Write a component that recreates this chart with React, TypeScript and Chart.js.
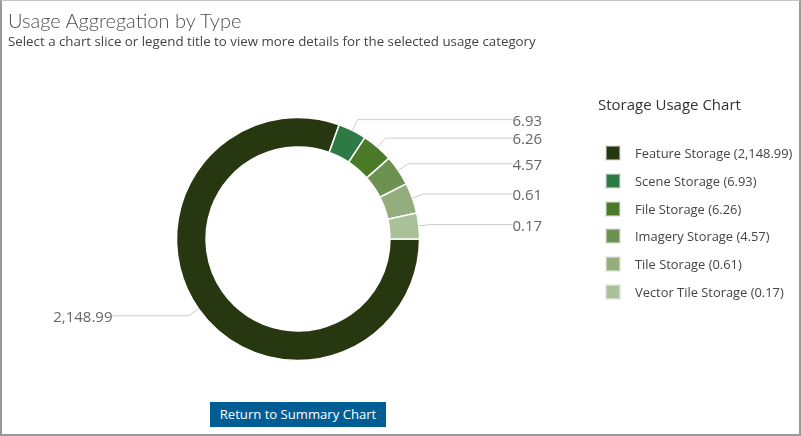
import React, { useEffect, useRef } from "react";
import { Chart, registerables } from "chart.js";

Chart.register(...registerables);

const chartTitle = "Usage Aggregation by Type";
const chartSubtitle =
  "Select a chart slice or legend title to view more details for the selected usage category";
const legendTitle = "Storage Usage Chart";
const buttonText = "Return to Summary Chart";

const categories = [
  "Feature Storage",
  "Scene Storage",
  "File Storage",
  "Imagery Storage",
  "Tile Storage",
  "Vector Tile Storage",
];
const usageValues = [2148.99, 6.93, 6.26, 4.57, 0.61, 0.17];
// Angular size (degrees) of each slice as it is drawn in the reference
// (the small categories are shown with a minimum visible slice size).
const sliceDegrees = [289.8, 13.6, 15.0, 14.6, 14.6, 12.4];
const sliceColors = ["#27370f", "#2e7a45", "#4a7a27", "#6d9151", "#93ad7d", "#a8c198"];

const FONT = '"Segoe UI", "Open Sans", sans-serif';

const fmt = (v: number) =>
  v.toLocaleString("en-US", { minimumFractionDigits: 2, maximumFractionDigits: 2 });

const leaderPlugin = {
  id: "leaderLabels",
  afterDatasetsDraw(chart: any) {
    const ctx = chart.ctx as CanvasRenderingContext2D;
    const meta = chart.getDatasetMeta(0);
    ctx.save();
    ctx.font = `15px ${FONT}`;
    ctx.textBaseline = "middle";
    meta.data.forEach((arc: any, i: number) => {
      const { x, y, startAngle, endAngle, outerRadius } = arc.getProps(
        ["x", "y", "startAngle", "endAngle", "outerRadius"],
        true
      );
      const mid = (startAngle + endAngle) / 2;
      const c = Math.cos(mid);
      const s = Math.sin(mid);
      const x0 = x + c * outerRadius;
      const y0 = y + s * outerRadius;
      const x1 = x + c * (outerRadius + 12);
      const y1 = y + s * (outerRadius + 12);
      const right = c >= 0;
      const x2 = right ? x + outerRadius + 93 : x - outerRadius - 64;
      ctx.strokeStyle = "#cdcdcd";
      ctx.lineWidth = 1;
      ctx.beginPath();
      ctx.moveTo(x0, y0);
      ctx.lineTo(x1, y1);
      ctx.lineTo(x2, y1);
      ctx.stroke();
      ctx.fillStyle = "#666666";
      ctx.textAlign = right ? "left" : "right";
      ctx.fillText(fmt(usageValues[i]), x2, y1 + 2);
    });
    ctx.restore();
  },
};

export default function App() {
  const canvasRef = useRef<HTMLCanvasElement | null>(null);

  useEffect(() => {
    document.body.style.margin = "0";
    const canvas = canvasRef.current;
    if (!canvas) return;
    const chart = new Chart(canvas, {
      type: "doughnut",
      data: {
        labels: categories,
        datasets: [
          {
            data: sliceDegrees,
            backgroundColor: sliceColors,
            borderColor: "#ffffff",
            borderWidth: 1.5,
          },
        ],
      },
      options: {
        responsive: false,
        animation: false,
        rotation: 90,
        circumference: 360,
        radius: 121.5,
        cutout: "75.7%",
        layout: { padding: { left: 0, right: 205, top: 42, bottom: 0 } },
        plugins: {
          legend: { display: false },
          tooltip: { enabled: false },
          title: { display: false },
        },
      },
      plugins: [leaderPlugin],
    } as any);
    return () => chart.destroy();
  }, []);

  return (
    <div style={{ position: "relative", width: 801, height: 436, overflow: "hidden", background: "#fff", fontFamily: FONT }}>
      <canvas
        ref={canvasRef}
        width={801}
        height={436}
        style={{ position: "absolute", left: 0, top: 0, width: 801, height: 436 }}
      />
      <div
        style={{
          position: "absolute",
          left: 0,
          top: 0,
          width: 801,
          height: 436,
          boxSizing: "border-box",
          borderLeft: "2px solid #9a9a9a",
          borderRight: "2px solid #9a9a9a",
          borderBottom: "2px solid #9a9a9a",
          borderTop: "1px solid #c4c4c4",
          pointerEvents: "none",
        }}
      />
      <div style={{ position: "absolute", left: 8, top: 8, fontSize: 20, lineHeight: "24px", fontWeight: 300, fontFamily: 'Lato, "Open Sans", sans-serif', color: "#505050", whiteSpace: "nowrap" }}>
        {chartTitle}
      </div>
      <div style={{ position: "absolute", left: 8, top: 33, fontSize: 13.3, lineHeight: "16px", color: "#444", whiteSpace: "nowrap" }}>
        {chartSubtitle}
      </div>
      <div style={{ position: "absolute", left: 598, top: 94, fontSize: 15, lineHeight: "20px", color: "#333", whiteSpace: "nowrap" }}>
        {legendTitle}
      </div>
      {categories.map((name, i) => {
        const cy = 153 + i * 27.8;
        return (
          <React.Fragment key={name}>
            <div
              style={{
                position: "absolute",
                left: 606,
                top: cy - 7,
                width: 14,
                height: 14,
                boxSizing: "border-box",
                background: sliceColors[i],
                border: "1px solid rgba(255,255,255,0.45)",
                outline: "1px solid rgba(0,0,0,0.08)",
              }}
            />
            <div style={{ position: "absolute", left: 635, top: cy - 8, fontSize: 12.9, lineHeight: "16px", color: "#444", whiteSpace: "nowrap" }}>
              {`${name} (${fmt(usageValues[i])})`}
            </div>
          </React.Fragment>
        );
      })}
      <div
        style={{
          position: "absolute",
          left: 210,
          top: 402,
          width: 176,
          height: 25,
          background: "#005e95",
          color: "#fff",
          fontSize: 13.1,
          lineHeight: "25px",
          textAlign: "center",
          whiteSpace: "nowrap",
        }}
      >
        {buttonText}
      </div>
    </div>
  );
}
